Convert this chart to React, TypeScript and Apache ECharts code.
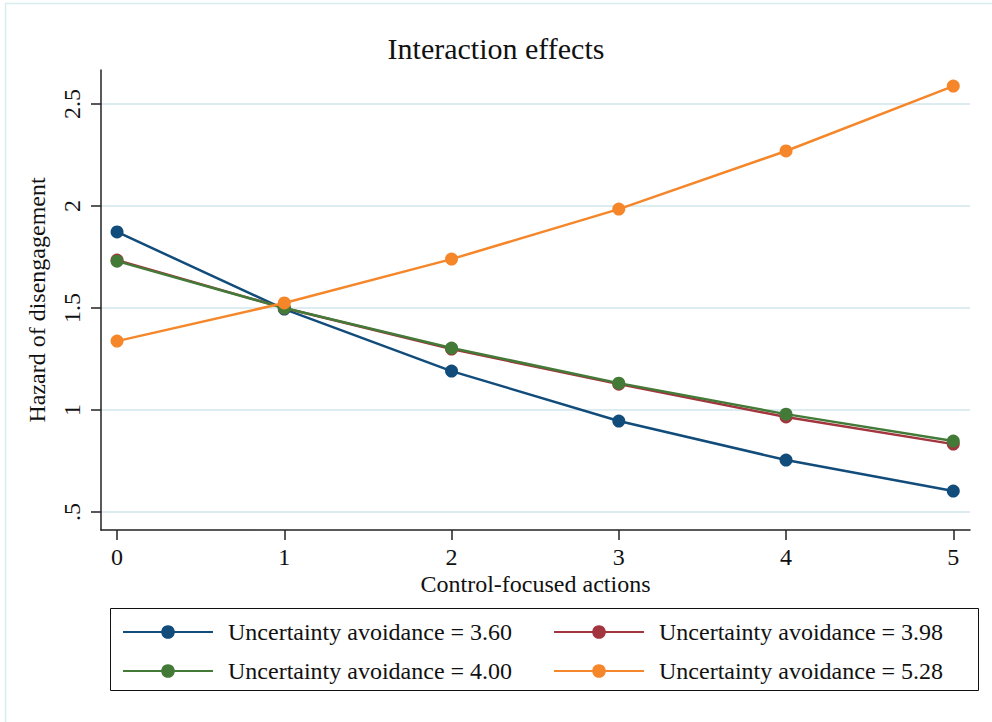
import React, { useEffect, useRef } from 'react';
import * as echarts from 'echarts';

const xValues = [0, 1, 2, 3, 4, 5];
const xTicks = [0, 1, 2, 3, 4, 5];
const yTicks = [0.5, 1, 1.5, 2, 2.5];
const seriesNames = [
  'Uncertainty avoidance = 3.60',
  'Uncertainty avoidance = 3.98',
  'Uncertainty avoidance = 4.00',
  'Uncertainty avoidance = 5.28',
];
const ua360 = [1.873, 1.495, 1.191, 0.946, 0.755, 0.603];
const ua398 = [1.735, 1.5, 1.299, 1.127, 0.966, 0.833];
const ua400 = [1.73, 1.5, 1.304, 1.132, 0.98, 0.848];
const ua528 = [1.338, 1.525, 1.74, 1.985, 2.27, 2.588];
const seriesValues = [ua360, ua398, ua400, ua528];
const colors = ['#114c7b', '#a3353e', '#437a38', '#f5872a'];

const FONT = "'Liberation Serif', 'Times New Roman', serif";

export default function App() {
  const ref = useRef<HTMLDivElement>(null);
  useEffect(() => {
    if (!ref.current) return;
    const chart = echarts.init(ref.current, undefined, { renderer: 'svg' });
    const legendCommon = {
      orient: 'vertical',
      top: 619,
      padding: 0,
      itemWidth: 90,
      itemHeight: 17,
      itemGap: 13,
      selectedMode: false,
      textStyle: {
        fontFamily: FONT,
        fontSize: 24,
        color: '#111',
        lineHeight: 26,
        padding: [0, 0, 0, 10],
      },
    };
    chart.setOption({
      animation: false,
      backgroundColor: '#ffffff',
      title: {
        text: 'Interaction effects',
        left: 'center',
        top: 33,
        padding: 0,
        textStyle: { fontFamily: FONT, fontSize: 30, fontWeight: 'normal', color: '#111' },
      },
      grid: { left: 101, top: 70, right: 22, bottom: 192 },
      xAxis: {
        type: 'value',
        min: -0.096,
        max: 5.1,
        name: 'Control-focused actions',
        nameLocation: 'middle',
        nameGap: 44,
        nameMoveOverlap: false,
        nameTextStyle: { fontFamily: FONT, fontSize: 24, color: '#111', lineHeight: 20 },
        axisLine: { show: true, onZero: false, lineStyle: { color: '#222', width: 1.5 } },
        axisTick: { show: true, length: 10, customValues: xTicks, lineStyle: { color: '#222', width: 1.5 } },
        axisLabel: {
          customValues: xTicks,
          margin: 17,
          fontFamily: FONT,
          fontSize: 24,
          lineHeight: 20,
          color: '#111',
        },
        splitLine: { show: false },
      },
      yAxis: {
        type: 'value',
        min: 0.412,
        max: 2.667,
        name: 'Hazard of disengagement',
        nameLocation: 'middle',
        nameRotate: 90,
        nameGap: 52,
        nameTextStyle: { fontFamily: FONT, fontSize: 24, color: '#111' },
        axisLine: { show: true, onZero: false, lineStyle: { color: '#222', width: 1.5 } },
        axisTick: { show: true, length: 10, customValues: yTicks, lineStyle: { color: '#222', width: 1.5 } },
        axisLabel: {
          customValues: yTicks,
          rotate: 90,
          margin: 17,
          fontFamily: FONT,
          fontSize: 24,
          color: '#111',
          formatter: (v: number) => (v === 0.5 ? '.5' : String(v)),
        },
        splitLine: { show: true, lineStyle: { color: '#dcecf1', width: 2 } },
      },
      legend: [
        { ...legendCommon, left: 122, data: [seriesNames[0], seriesNames[2]] },
        { ...legendCommon, left: 553, data: [seriesNames[1], seriesNames[3]] },
      ],
      graphic: [
        {
          type: 'rect',
          shape: { x: 5.5, y: 3.5, width: 1100, height: 1100 },
          style: { fill: 'none', stroke: '#d8ebf0', lineWidth: 1.5 },
          silent: true,
        },
        {
          type: 'rect',
          shape: { x: 110.5, y: 608.5, width: 868, height: 82 },
          style: { fill: 'none', stroke: '#111', lineWidth: 1 },
          silent: true,
        },
      ],
      series: seriesValues.map((vals, i) => ({
        name: seriesNames[i],
        type: 'line',
        data: xValues.map((x, j) => [x, vals[j]]),
        symbol: 'circle',
        symbolSize: 13,
        color: colors[i],
        lineStyle: { width: 2.5, color: colors[i] },
        itemStyle: { color: colors[i] },
        z: 2 + i,
      })),
    });
    return () => chart.dispose();
  }, []);
  return (
    <div
      ref={ref}
      style={{ position: 'absolute', left: 0, top: 0, width: 992, height: 722 }}
    />
  );
}
